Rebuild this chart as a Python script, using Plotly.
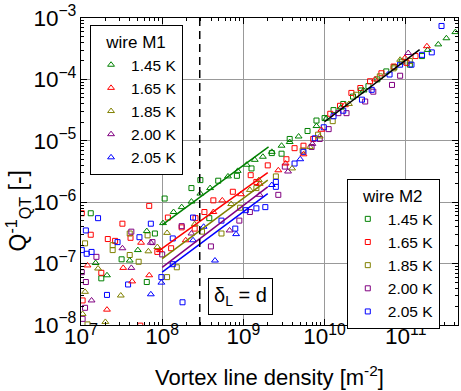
import numpy as np
import plotly.graph_objects as go

# ---------------- data (log10 values) ----------------
temps = ["1.45 K", "1.65 K", "1.85 K", "2.00 K", "2.05 K"]
colors = ["#008000", "#ff0000", "#808000", "#800080", "#0000ff"]

# wire M1 (triangles)
m1_145_logL = [7.18, 7.32, 7.60, 7.70, 7.81, 8.01, 8.14, 8.24, 8.36, 8.47, 8.59, 8.81, 8.93, 9.04, 9.14, 9.24, 9.35, 9.47, 9.57, 9.68, 9.90, 10.02, 10.20, 10.48, 11.27, 11.40, 11.50, 11.61]
m1_145_logQ = [-6.99, -7.19, -6.95, -6.78, -6.47, -6.34, -6.16, -6.08, -5.99, -5.86, -5.77, -5.58, -5.49, -5.39, -5.31, -5.26, -5.18, -5.08, -5.02, -4.93, -4.76, -4.64, -4.46, -4.18, -3.52, -3.43, -3.33, -3.23]
m1_165_logL = [7.08, 7.32, 7.52, 7.63, 7.74, 7.84, 7.97, 8.29, 8.63, 8.74, 8.97, 9.20, 9.43, 9.52, 9.74, 9.96, 10.25, 10.62, 10.99, 11.26]
m1_165_logQ = [-7.03, -7.75, -7.07, -7.29, -6.66, -7.19, -6.78, -6.62, -6.16, -5.97, -5.87, -5.70, -5.48, -5.37, -5.22, -4.82, -4.42, -4.00, -3.65, -3.46]
m1_185_logL = [7.02, 7.05, 7.21, 7.30, 7.49, 7.83, 7.94, 8.06, 8.40, 8.85, 9.08, 9.19, 9.60, 9.82, 9.94, 10.30, 10.93]
m1_185_logQ = [-7.82, -7.46, -7.08, -7.95, -7.52, -6.80, -6.73, -6.50, -6.36, -6.03, -5.80, -5.64, -5.45, -5.10, -4.93, -4.40, -3.68]
m1_200_logL = [7.13, 7.51, 7.62, 7.86, 8.36, 8.83, 9.20, 9.55, 9.85, 11.03]
m1_200_logQ = [-7.60, -6.75, -7.07, -6.66, -6.51, -6.46, -5.88, -5.50, -5.05, -3.57]
m1_205_logL = [7.86, 7.99, 8.38, 8.51, 8.65, 8.91, 9.35, 9.70]
m1_205_logQ = [-7.50, -7.31, -6.62, -6.40, -6.95, -6.52, -5.72, -5.30]

# wire M2 (squares)
m2_145_logL = [7.12, 7.25, 7.50, 7.81, 7.91, 8.03, 8.36, 8.47, 8.58, 8.69, 8.92, 9.10, 9.35, 9.47, 9.57, 9.79, 9.90, 10.00, 10.11, 10.23, 10.35, 10.45, 10.54, 10.65, 10.76, 10.86, 10.95, 11.05, 11.20]
m2_145_logQ = [-6.18, -7.24, -6.93, -7.30, -6.51, -5.94, -5.77, -5.64, -6.26, -5.65, -5.57, -5.45, -5.20, -5.21, -4.97, -4.84, -4.67, -4.63, -4.50, -4.40, -4.28, -4.18, -4.11, -4.00, -3.87, -3.80, -3.71, -3.76, -3.62]
m2_165_logL = [7.01, 7.02, 7.12, 7.25, 7.33, 7.42, 7.51, 7.61, 7.73, 7.84, 7.94, 8.07, 8.11, 8.24, 8.40, 8.41, 8.52, 8.63, 8.87, 9.09, 9.16, 9.30, 9.53, 9.63, 9.74, 9.86, 10.07, 10.19, 10.33, 10.44, 10.56, 10.70, 10.85, 11.01, 11.12]
m2_165_logQ = [-6.18, -7.60, -6.53, -7.15, -6.60, -6.63, -6.35, -6.58, -8.01, -6.06, -6.81, -6.25, -6.75, -6.41, -6.43, -6.26, -6.16, -5.97, -5.83, -5.56, -5.67, -5.40, -5.30, -5.12, -5.08, -4.97, -4.56, -4.43, -4.22, -4.14, -4.03, -3.90, -3.79, -3.73, -3.62]
m2_185_logL = [7.05, 7.08, 7.39, 7.39, 7.60, 7.60, 7.71, 7.82, 8.06, 8.18, 8.49, 8.73, 8.96, 9.16, 9.40, 9.73, 9.92, 10.10, 10.39, 10.68, 10.85, 11.05]
m2_185_logQ = [-6.67, -7.99, -6.70, -6.78, -6.51, -6.86, -6.97, -6.54, -7.22, -7.06, -6.48, -6.51, -6.09, -5.77, -5.58, -5.16, -4.90, -4.68, -4.25, -3.95, -3.82, -3.70]
m2_200_logL = [7.01, 7.02, 7.05, 7.06, 7.19, 7.62, 7.88, 8.00, 8.24, 8.60, 8.95, 9.08, 9.43, 9.51, 9.84, 9.94, 10.05, 10.17, 10.27, 10.50, 10.60, 10.83, 10.93]
m2_200_logQ = [-7.14, -7.90, -7.72, -7.30, -6.89, -6.48, -6.65, -6.85, -6.39, -6.72, -6.30, -6.16, -5.88, -5.42, -5.10, -4.97, -4.81, -4.55, -4.55, -4.36, -4.20, -4.09, -3.94]
m2_205_logL = [7.01, 7.06, 7.07, 7.13, 7.21, 7.32, 7.45, 7.58, 7.72, 7.86, 7.99, 8.13, 8.13, 8.25, 8.38, 8.73, 8.90, 9.03, 9.16, 9.27, 9.40, 9.40, 9.63, 9.74, 9.88, 9.99, 10.11, 10.23, 10.46, 10.58, 10.80, 10.93, 11.07, 11.20, 11.32, 11.44]
m2_205_logQ = [-6.78, -6.46, -6.84, -6.81, -6.26, -7.51, -6.65, -7.34, -6.57, -6.35, -7.22, -7.01, -6.59, -7.63, -6.25, -6.30, -6.43, -6.13, -6.10, -6.08, -5.67, -5.75, -5.37, -5.18, -4.96, -4.78, -4.60, -4.51, -4.33, -4.17, -3.92, -3.76, -3.76, -3.60, -3.56, -3.13]

# power-law fit segments for wire M1 (log10 end points)
fit_logL_start = [8.00, 7.94, 8.00, 8.00, 8.00]
fit_logL_end = [9.31, 9.30, 9.30, 9.30, 9.30]
fit_logQ_start = [-6.37, -6.81, -6.92, -7.06, -7.14]
fit_logQ_end = [-5.10, -5.52, -5.64, -5.75, -5.86]
# high-density common fit (black)
hi_fit_logL = [10.0, 11.17]
hi_fit_logQ = [-4.69, -3.515]

delta_L_equals_d = 2.9e8  # vortex line density where delta_L = d

m1 = [(m1_145_logL, m1_145_logQ), (m1_165_logL, m1_165_logQ), (m1_185_logL, m1_185_logQ),
      (m1_200_logL, m1_200_logQ), (m1_205_logL, m1_205_logQ)]
m2 = [(m2_145_logL, m2_145_logQ), (m2_165_logL, m2_165_logQ), (m2_185_logL, m2_185_logQ),
      (m2_200_logL, m2_200_logQ), (m2_205_logL, m2_205_logQ)]

p10 = lambda v: np.power(10.0, np.array(v))

fig = go.Figure()
FONT = "Liberation Sans, Arial, sans-serif"

for i, (lx, lq) in enumerate(m2):
    fig.add_trace(go.Scatter(
        x=p10(lx), y=p10(lq), mode="markers", name=temps[i], legend="legend2",
        marker=dict(symbol="square-open", size=5, color=colors[i], line=dict(width=1, color=colors[i]))))
for i, (lx, lq) in enumerate(m1):
    fig.add_trace(go.Scatter(
        x=p10(lx), y=p10(lq), mode="markers", name=temps[i], legend="legend",
        marker=dict(symbol="triangle-up-open", size=6, color=colors[i], line=dict(width=1, color=colors[i]))))

# fit lines (drawn over markers)
for i in range(5):
    fig.add_trace(go.Scatter(
        x=p10([fit_logL_start[i], fit_logL_end[i]]), y=p10([fit_logQ_start[i], fit_logQ_end[i]]),
        mode="lines", line=dict(color=colors[i], width=1.5), showlegend=False, hoverinfo="skip"))
fig.add_trace(go.Scatter(x=p10(hi_fit_logL), y=p10(hi_fit_logQ), mode="lines",
                         line=dict(color="black", width=1.5), showlegend=False, hoverinfo="skip"))

fig.add_shape(type="line", x0=delta_L_equals_d, x1=delta_L_equals_d, xref="x", yref="paper", y0=0, y1=1,
              line=dict(color="black", width=1.5, dash="8px,5px"))

fig.add_annotation(text="δ<sub>L</sub> = d", xref="paper", yref="paper", x=0.4218, y=0.0928,
                   xanchor="center", yanchor="middle",
                   showarrow=False, font=dict(size=20, color="black", family=FONT),
                   bordercolor="black", borderwidth=1, borderpad=5, bgcolor="white")

fig.add_annotation(text="Q<sup>-1</sup><sub>QT</sub> [-]", xref="paper", yref="paper",
                   x=0, xshift=-63, y=0.37, xanchor="center", yanchor="middle",
                   textangle=-90, showarrow=False,
                   font=dict(size=23, color="black", family=FONT))
fig.add_annotation(text="Vortex line density [m<sup>-2</sup>]", xref="paper", yref="paper",
                   x=0.5, y=0, yshift=-51, xanchor="center", yanchor="middle", showarrow=False,
                   font=dict(size=22, color="black", family=FONT))

axis_common = dict(type="log", dtick=1, showline=True, linecolor="black", linewidth=1, mirror="allticks",
                   ticks="inside", ticklen=6, tickcolor="black", showgrid=True, gridcolor="#999999",
                   gridwidth=1, exponentformat="power", zeroline=False,
                   tickfont=dict(size=18, color="black", family=FONT),
                   minor=dict(ticks="inside", ticklen=3, tickcolor="black", showgrid=False))

fig.update_xaxes(range=[7, 11.643], ticklabelstandoff=-8, **axis_common)
fig.update_yaxes(range=[-8, -3], ticklabelstandoff=0, **axis_common)

legend_common = dict(bgcolor="white", bordercolor="black", borderwidth=1,
                     font=dict(size=15.5, color="black", family=FONT), itemsizing="trace",
                     xanchor="left", yanchor="top", tracegroupgap=0)
fig.update_layout(
    width=461, height=391, margin=dict(l=81, r=3, t=18, b=66),
    plot_bgcolor="white", paper_bgcolor="white",
    font=dict(family=FONT, color="black"),
    legend=dict(x=0.024, y=0.977, title=dict(text="wire M1", side="top center",
                font=dict(size=17, color="black", family=FONT)), **legend_common),
    legend2=dict(x=0.705, y=0.475, title=dict(text="wire M2", side="top center",
                 font=dict(size=17, color="black", family=FONT)), **legend_common),
)

fig.write_html("out.html", config={"displayModeBar": False},
               post_script="document.body.style.margin='0';")
